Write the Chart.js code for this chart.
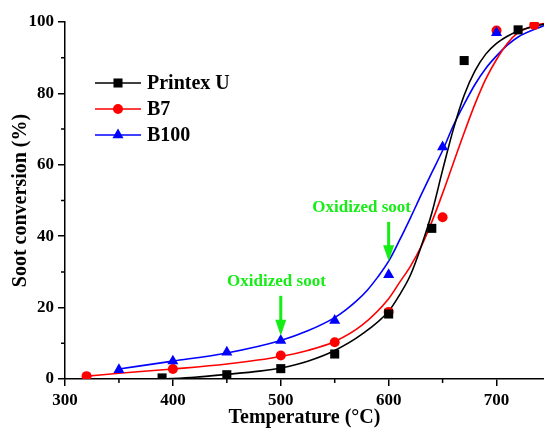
<!DOCTYPE html>
<html>
<head>
<meta charset="utf-8">
<script src="https://cdn.jsdelivr.net/npm/chart.js@4.4.1/dist/chart.umd.min.js"></script>
<style>
  body { margin: 0; background: #fff; }
  #wrap { width: 544px; height: 428px; }
</style>
</head>
<body>
<div id="wrap"><canvas id="chart" width="544" height="428"></canvas></div>
<script>
// measured conversion points
const printexT = [390, 450, 500, 550, 600, 640, 670, 720];
const printexY = [0.3, 1.2, 2.9, 7.0, 18.2, 42.2, 89.2, 97.8];
const b7T = [320, 400, 500, 550, 600, 650, 700, 735];
const b7Y = [0.8, 2.8, 6.6, 10.3, 18.8, 45.3, 97.6, 99.2];
const b100T = [350, 400, 450, 500, 550, 600, 650, 700];
const b100Y = [2.6, 5.0, 7.5, 10.8, 16.4, 29.2, 65.0, 97.0];

// fitted curves
const printexFitT = [390, 420, 450, 480, 500, 525, 550, 575, 600, 610, 620, 630, 640, 650, 660, 670, 680, 690, 700, 710, 720, 744];
const printexFitY = [0, 0.5, 1.3, 2.2, 3.1, 5.0, 8.0, 12.5, 19.0, 23.5, 29.0, 37.0, 46.5, 58.5, 70.0, 79.5, 86.3, 91.0, 94.0, 96.0, 97.5, 99.4];
const b7FitT = [320, 350, 400, 450, 500, 525, 550, 575, 600, 610, 620, 630, 640, 650, 660, 670, 680, 690, 700, 710, 720, 735, 744];
const b7FitY = [0.8, 1.6, 2.8, 4.2, 6.3, 8.0, 10.5, 15.0, 22.5, 27.0, 31.5, 37.0, 44.0, 52.0, 60.5, 69.0, 77.0, 84.0, 89.5, 94.0, 97.0, 99.0, 99.6];
const b100FitT = [350, 400, 450, 500, 525, 550, 560, 570, 580, 590, 600, 610, 620, 630, 640, 650, 660, 670, 680, 690, 700, 710, 720, 744];
const b100FitY = [2.8, 5.0, 7.3, 10.8, 13.5, 17.2, 19.3, 21.8, 24.8, 28.6, 33.0, 38.8, 45.0, 51.5, 57.8, 64.0, 71.0, 77.0, 82.5, 87.0, 90.5, 93.5, 95.8, 99.0];

const xTicks = [300, 400, 500, 600, 700];
const yTicks = [0, 20, 40, 60, 80, 100];

// "Oxidized soot" notes: [label x, label y, arrow x, arrow top, arrow tip]
const notes = [
  [496, 27.2, 500, 23.3, 12.1],
  [575, 47.9, 600, 44.0, 33.0]
];

const serif = "'Liberation Serif', 'Times New Roman', serif";
const green = '#16ec16';

function pts(xs, ys) {
  return xs.map((x, i) => ({ x: x, y: ys[i] }));
}

function fitLine(xs, ys, color) {
  return {
    data: pts(xs, ys),
    showLine: true,
    borderColor: color,
    borderWidth: 1.6,
    pointRadius: 0,
    cubicInterpolationMode: 'monotone',
    order: 3
  };
}

function markers(label, xs, ys, color, style, r, order) {
  return {
    label: label,
    data: pts(xs, ys),
    showLine: false,
    backgroundColor: color,
    borderColor: color,
    borderWidth: 0,
    pointStyle: style,
    pointRadius: r,
    order: order
  };
}

const extras = {
  id: 'extras',
  afterDraw(chart) {
    const ctx = chart.ctx;
    const xs = chart.scales.x, ys = chart.scales.y;
    const area = chart.chartArea;
    ctx.save();

    // minor ticks
    ctx.strokeStyle = '#000';
    ctx.lineWidth = 1.5;
    ctx.beginPath();
    [10, 30, 50, 70, 90].forEach(v => {
      const py = ys.getPixelForValue(v);
      ctx.moveTo(area.left - 4, py);
      ctx.lineTo(area.left, py);
    });
    [350, 450, 550, 650].forEach(v => {
      const px = xs.getPixelForValue(v);
      ctx.moveTo(px, area.bottom);
      ctx.lineTo(px, area.bottom + 4);
    });
    ctx.stroke();

    // legend
    const sets = chart.data.datasets.filter(d => d.label);
    sets.forEach((d, i) => {
      const y = area.top + 61 + i * 26;
      const x0 = area.left + 30;
      ctx.strokeStyle = d.borderColor;
      ctx.lineWidth = 1.6;
      ctx.beginPath();
      ctx.moveTo(x0, y);
      ctx.lineTo(x0 + 46, y);
      ctx.stroke();
      ctx.fillStyle = d.backgroundColor;
      Chart.helpers.drawPoint(ctx, { pointStyle: d.pointStyle, radius: d.pointRadius, rotation: 0, borderWidth: 0 }, x0 + 23, y);
      ctx.fillStyle = '#000';
      ctx.font = 'bold 20px ' + serif;
      ctx.textAlign = 'left';
      ctx.textBaseline = 'middle';
      ctx.fillText(d.label, x0 + 52, y + 1);
    });

    // annotations
    notes.forEach(n => {
      ctx.fillStyle = green;
      ctx.strokeStyle = green;
      ctx.font = 'bold 17px ' + serif;
      ctx.textAlign = 'center';
      ctx.textBaseline = 'middle';
      ctx.fillText('Oxidized soot', xs.getPixelForValue(n[0]), ys.getPixelForValue(n[1]));
      const ax = xs.getPixelForValue(n[2]);
      const top = ys.getPixelForValue(n[3]);
      const tip = ys.getPixelForValue(n[4]);
      ctx.lineWidth = 3;
      ctx.beginPath();
      ctx.moveTo(ax, top);
      ctx.lineTo(ax, tip - 14);
      ctx.stroke();
      ctx.beginPath();
      ctx.moveTo(ax - 5.5, tip - 16);
      ctx.lineTo(ax + 5.5, tip - 16);
      ctx.lineTo(ax, tip);
      ctx.closePath();
      ctx.fill();
    });
    ctx.restore();
  }
};

new Chart(document.getElementById('chart'), {
  type: 'scatter',
  data: {
    datasets: [
      markers('Printex U', printexT, printexY, '#000000', 'rect', 6.4, 0),
      markers('B7', b7T, b7Y, '#ff0000', 'circle', 5, 2),
      markers('B100', b100T, b100Y, '#0000ff', 'triangle', 6.4, 1),
      fitLine(printexFitT, printexFitY, '#000000'),
      fitLine(b7FitT, b7FitY, '#ff0000'),
      fitLine(b100FitT, b100FitY, '#0000ff')
    ]
  },
  options: {
    responsive: false,
    animation: false,
    layout: { autoPadding: false, padding: { top: 22, right: 0, left: 0, bottom: 0 } },
    plugins: { legend: { display: false }, tooltip: { enabled: false } },
    scales: {
      x: {
        type: 'linear',
        min: 300,
        max: 744,
        afterFit: s => { s.height = 49; s.paddingLeft = 0; s.paddingRight = 0; },
        afterBuildTicks: s => { s.ticks = xTicks.map(v => ({ value: v })); },
        ticks: { color: '#000', font: { family: serif, size: 17, weight: 'bold' }, padding: 4, maxRotation: 0 },
        grid: { drawOnChartArea: false, color: '#000', lineWidth: 1.5, tickLength: 7 },
        border: { color: '#000', width: 1.5 },
        title: {
          display: true,
          text: 'Temperature (°C)',
          color: '#000',
          font: { family: serif, size: 20, weight: 'bold', lineHeight: 1 },
          padding: { top: 0, bottom: 0 }
        }
      },
      y: {
        min: 0,
        max: 100,
        afterFit: s => { s.width = 65; },
        afterBuildTicks: s => { s.ticks = yTicks.map(v => ({ value: v })); },
        ticks: { color: '#000', font: { family: serif, size: 17, weight: 'bold' }, padding: 4 },
        grid: { drawOnChartArea: false, color: '#000', lineWidth: 1.5, tickLength: 7 },
        border: { color: '#000', width: 1.5 },
        title: {
          display: true,
          text: 'Soot conversion (%)',
          color: '#000',
          font: { family: serif, size: 20, weight: 'bold', lineHeight: 1 },
          padding: { top: 11, bottom: 0 }
        }
      }
    }
  },
  plugins: [extras]
});
</script>
</body>
</html>
